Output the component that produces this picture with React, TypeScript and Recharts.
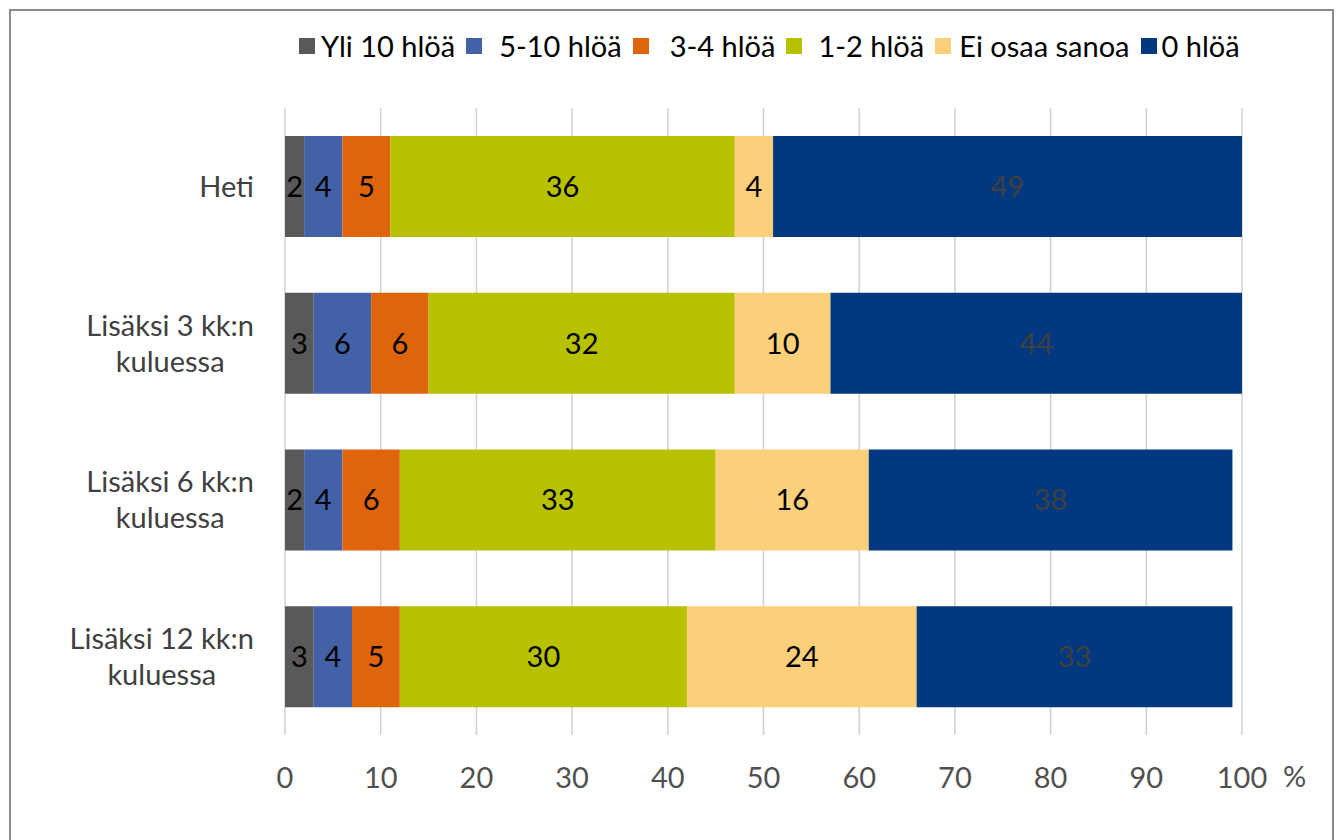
import React from 'react';
import {
  BarChart,
  Bar,
  XAxis,
  YAxis,
  CartesianGrid,
  Legend,
  LabelList,
} from 'recharts';

// Categories (time periods) and share of respondents per answer, in %.
const categories = [
  ['Heti'],
  ['Lisäksi 3 kk:n', 'kuluessa'],
  ['Lisäksi 6 kk:n', 'kuluessa'],
  ['Lisäksi 12 kk:n', 'kuluessa'],
];
const yli10 = [2, 3, 2, 3];
const viisiKymmenen = [4, 6, 4, 4];
const kolmeNelja = [5, 6, 6, 5];
const yksiKaksi = [36, 32, 33, 30];
const eiOsaa = [4, 10, 16, 24];
const nolla = [49, 44, 38, 33];
const xTicks = [0, 10, 20, 30, 40, 50, 60, 70, 80, 90, 100];

const seriesDefs = [
  { key: 'yli10', name: 'Yli 10 hlöä', color: '#595959', label: '#000000', gap: 6 },
  { key: 'viisiKymmenen', name: '5-10 hlöä', color: '#4361A6', label: '#000000', gap: 17 },
  { key: 'kolmeNelja', name: '3-4 hlöä', color: '#DE640E', label: '#000000', gap: 21 },
  { key: 'yksiKaksi', name: '1-2 hlöä', color: '#B8C100', label: '#000000', gap: 16 },
  { key: 'eiOsaa', name: 'Ei osaa sanoa', color: '#FCCF7A', label: '#000000', gap: 8 },
  { key: 'nolla', name: '0 hlöä', color: '#01387F', label: '#404040', gap: 5 },
];

const data = categories.map((lines, i) => ({
  category: lines.join(' '),
  lines,
  yli10: yli10[i],
  viisiKymmenen: viisiKymmenen[i],
  kolmeNelja: kolmeNelja[i],
  yksiKaksi: yksiKaksi[i],
  eiOsaa: eiOsaa[i],
  nolla: nolla[i],
}));

const FONT = 'Lato, "Open Sans", sans-serif';
const FONT_SIZE = 29;

let measureCtx: CanvasRenderingContext2D | null = null;
function textWidth(s: string): number {
  if (!measureCtx) {
    const c = document.createElement('canvas');
    measureCtx = c.getContext('2d');
  }
  if (!measureCtx) return s.length * FONT_SIZE * 0.5;
  measureCtx.font = `${FONT_SIZE}px Lato`;
  return measureCtx.measureText(s).width;
}

// Wrapped category label: lines centred within a block right-aligned to the axis.
const CategoryTick = (props: any) => {
  const { x, y, payload } = props;
  const row = data.find((d) => d.category === payload.value);
  const lines = row ? row.lines : [String(payload.value)];
  const maxW = Math.max(...lines.map(textWidth));
  const cx = x - 23 - maxW / 2;
  const lineH = 36;
  const startY = y - ((lines.length - 1) * lineH) / 2;
  return (
    <text textAnchor="middle" fill="#404040" fontSize={FONT_SIZE} fontFamily={FONT}>
      {lines.map((l, i) => (
        <tspan key={i} x={cx} y={startY + i * lineH} dy="0.36em">
          {l}
        </tspan>
      ))}
    </text>
  );
};

const LegendContent = () => (
  <div
    style={{
      display: 'flex',
      alignItems: 'center',
      justifyContent: 'flex-start',
      fontFamily: FONT,
      fontSize: FONT_SIZE,
      lineHeight: '36px',
      height: 36,
      color: '#000',
      whiteSpace: 'nowrap',
    }}
  >
    {seriesDefs.map((s, i) => (
      <span
        key={s.key}
        style={{
          display: 'inline-flex',
          alignItems: 'center',
          marginRight: i < seriesDefs.length - 1 ? 11 : 0,
        }}
      >
        <span
          style={{
            display: 'inline-block',
            width: 16,
            height: 16,
            background: s.color,
            marginRight: s.gap,
          }}
        />
        {s.name}
      </span>
    ))}
  </div>
);

export default function App() {
  return (
    <div style={{ position: 'absolute', left: 0, top: 0, width: 1340, height: 840, background: '#fff' }}>
      <div
        style={{
          position: 'absolute',
          left: 9,
          top: 9,
          width: 1321,
          height: 840,
          borderTop: '2px solid #8a8a8a',
          borderLeft: '2px solid #8a8a8a',
          borderRight: '2px solid #8a8a8a',
        }}
      />
      <div style={{ position: 'absolute', left: 0, top: 0 }}>
        <BarChart
          width={1340}
          height={840}
          data={data}
          layout="vertical"
          barCategoryGap={28}
          margin={{ top: 72, right: 98, left: 0, bottom: 45 }}
        >
          <CartesianGrid horizontal={false} vertical stroke="#d0d0d0" strokeWidth={1.5} />
          <XAxis
            type="number"
            domain={[0, 100]}
            ticks={xTicks}
            allowDataOverflow
            axisLine={false}
            tickLine={false}
            height={60}
            tickMargin={26}
            tick={{ fill: '#505050', fontSize: FONT_SIZE, fontFamily: FONT }}
            label={{
              value: '%',
              position: 'right',
              offset: 41,
              dy: 12,
              fill: '#505050',
              fontSize: FONT_SIZE,
              fontFamily: FONT,
            }}
          />
          <YAxis
            type="category"
            dataKey="category"
            width={285}
            axisLine={false}
            tickLine={false}
            tick={<CategoryTick />}
            interval={0}
          />
          <Legend
            verticalAlign="top"
            content={<LegendContent />}
            wrapperStyle={{ top: 28, left: 299, width: 1000 }}
          />
          {seriesDefs.map((s) => (
            <Bar
              key={s.key}
              dataKey={s.key}
              name={s.name}
              stackId="a"
              fill={s.color}
              isAnimationActive={false}
            >
              <LabelList
                dataKey={s.key}
                position="center"
                fill={s.label}
                fontSize={FONT_SIZE}
                fontFamily={FONT}
              />
            </Bar>
          ))}
        </BarChart>
      </div>
    </div>
  );
}
